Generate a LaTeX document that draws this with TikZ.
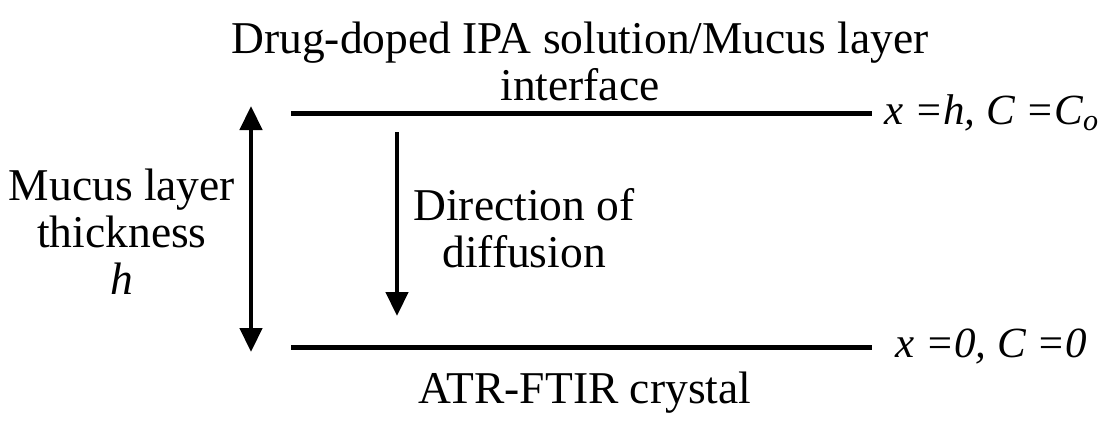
\documentclass[tikz,border=0pt]{standalone}
\usepackage{fontspec}
\setmainfont{Liberation Serif}
\usetikzlibrary{arrows.meta}
\begin{document}
\begin{tikzpicture}[x=1pt,y=-1pt,
  lbl/.style={font=\fontsize{45.5}{47}\selectfont, align=center, inner sep=0pt},
  eq/.style={font=\fontsize{43}{46}\selectfont\itshape, anchor=west, inner sep=0pt},
  bar/.style={line width=5pt},
  arr/.style={line width=4.5pt, -{Triangle[width=22pt,length=24pt]}},
  darr/.style={line width=4.5pt, {Triangle[width=22pt,length=24pt]}-{Triangle[width=22pt,length=24pt]}}]
\useasboundingbox (0,0) rectangle (1111,421);
\coordinate (tl) at (291,113);
\coordinate (tr) at (872,113);
\coordinate (bl) at (291,347);
\coordinate (br) at (872,347);
\draw[bar] (tl) -- (tr);
\draw[bar] (bl) -- (br);
\coordinate (dt) at (251,106);
\coordinate (db) at (251,352);
\draw[darr] (dt) -- (db);
\coordinate (at) at (397,132);
\coordinate (ab) at (397,316);
\draw[arr] (at) -- (ab);
\node[lbl] (top) at (580,61) {Drug-doped IPA solution/Mucus layer\\interface};
\node[lbl] (mucus) at (122,232) {Mucus layer\\thickness\\\textit{h}};
\node[lbl] (dir) at (524,228) {Direction of\\diffusion};
\node[lbl] (atr) at (585,393) {ATR-FTIR crystal};
\node[eq] (eqt) at (884,113) {x =h, C =C\textsubscript{o}};
\node[eq] (eqb) at (895,347) {x =0, C =0};
\end{tikzpicture}
\end{document}
